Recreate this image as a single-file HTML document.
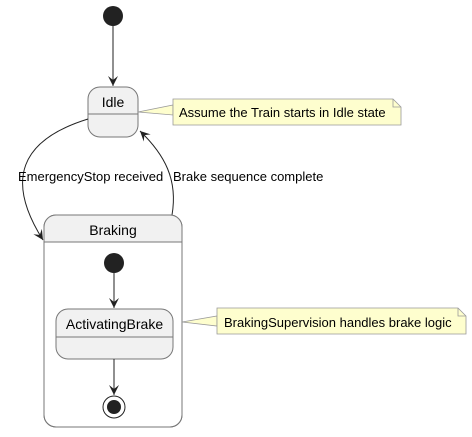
<!DOCTYPE html>
<html><head><style>body{margin:0;background:#fff}</style></head><body>
<svg width="472" height="432" viewBox="0 0 472 432" xmlns="http://www.w3.org/2000/svg" font-family="Liberation Sans, sans-serif" font-size="13">
<defs><marker id="a" markerWidth="12" markerHeight="12" refX="10" refY="5" orient="auto" markerUnits="userSpaceOnUse"><path d="M0,0 L10,5 L0,10 L4,5 Z" fill="#222"/></marker></defs>
<circle cx="113" cy="16" r="10" fill="#222"/>
<line x1="113" y1="26" x2="113" y2="86" stroke="#222" marker-end="url(#a)"/>
<rect x="88" y="87" width="50" height="50" rx="12" fill="#f1f1f1" stroke="#777"/>
<line x1="88" y1="114" x2="138" y2="114" stroke="#777"/>
<text x="113" y="107" text-anchor="middle" font-size="14">Idle</text>
<path d="M138,112 L173,105 L173,115 Z" fill="#fefece" stroke="#999" stroke-width="0.8"/>
<path d="M173,99 L393,99 L401,107 L401,125 L173,125 Z" fill="#fefece" stroke="#999" stroke-width="0.8"/>
<path d="M393,99 L393,107 L401,107" fill="none" stroke="#999" stroke-width="0.8"/>
<text x="179" y="117">Assume the Train starts in Idle state</text>
<path d="M88,119 C20,140 5,180 43,240" fill="none" stroke="#222" marker-end="url(#a)"/>
<text x="18" y="181">EmergencyStop received</text>
<path d="M172,215 C178,180 165,155 140,131" fill="none" stroke="#222" marker-end="url(#a)"/>
<text x="173" y="181">Brake sequence complete</text>
<rect x="44" y="215" width="138" height="212" rx="12" fill="#fff" stroke="#777"/>
<path d="M44,242 L44,227 Q44,215 56,215 L170,215 Q182,215 182,227 L182,242 Z" fill="#f1f1f1"/>
<rect x="44" y="215" width="138" height="212" rx="12" fill="none" stroke="#777"/>
<line x1="44" y1="242" x2="182" y2="242" stroke="#777"/>
<text x="113" y="235" text-anchor="middle" font-size="14">Braking</text>
<circle cx="114" cy="263" r="10" fill="#222"/>
<line x1="114" y1="273" x2="114" y2="308" stroke="#222" marker-end="url(#a)"/>
<rect x="56" y="309" width="117" height="50" rx="12" fill="#f1f1f1" stroke="#777"/>
<line x1="56" y1="337" x2="173" y2="337" stroke="#777"/>
<text x="114.5" y="329" text-anchor="middle" font-size="14">ActivatingBrake</text>
<line x1="114" y1="359" x2="114" y2="395" stroke="#222" marker-end="url(#a)"/>
<circle cx="114" cy="407" r="11" fill="#fff" stroke="#222"/>
<circle cx="114" cy="407" r="7" fill="#222"/>
<path d="M182,322 L217,316 L217,326 Z" fill="#fefece" stroke="#999" stroke-width="0.8"/>
<path d="M217,308 L458,308 L466,316 L466,334 L217,334 Z" fill="#fefece" stroke="#999" stroke-width="0.8"/>
<path d="M458,308 L458,316 L466,316" fill="none" stroke="#999" stroke-width="0.8"/>
<text x="224" y="327">BrakingSupervision handles brake logic</text>
</svg>
</body></html>
